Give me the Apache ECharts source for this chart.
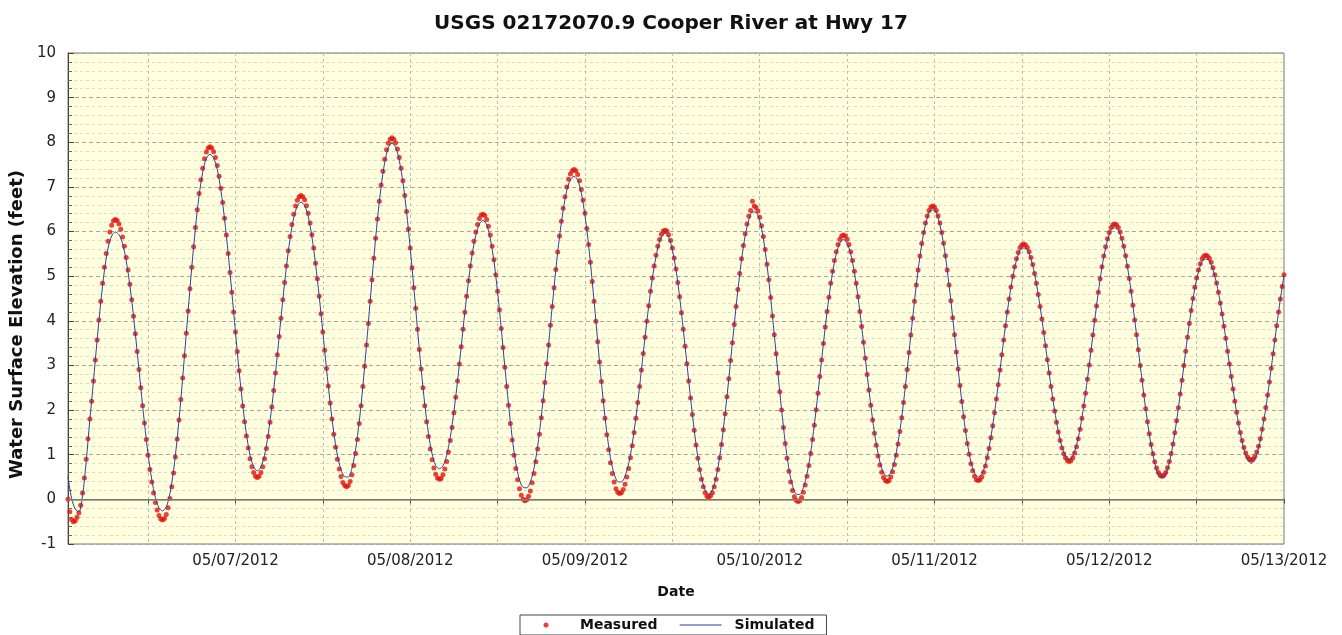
<!DOCTYPE html>
<html>
<head>
<meta charset="utf-8">
<title>USGS 02172070.9 Cooper River at Hwy 17</title>
<script src="https://cdn.jsdelivr.net/npm/echarts@6/dist/echarts.min.js"></script>
<style>
  html, body { margin: 0; padding: 0; background: #fff; }
  #chart { width: 1342px; height: 635px; }
</style>
</head>
<body>
<div id="chart"></div>
<script>
const chartTitle = "USGS 02172070.9 Cooper River at Hwy 17";

// x axis is hours since 05/06/2012 00:00
const dayTicks = [24, 48, 72, 96, 120, 144, 168];
const halfDayTicks = [12, 24, 36, 48, 60, 72, 84, 96, 108, 120, 132, 144, 156, 168];
const dateLabels = ["05/07/2012", "05/08/2012", "05/09/2012", "05/10/2012", "05/11/2012", "05/12/2012", "05/13/2012"];

// measured stage, every 15 minutes from 05/06 01:00
const measuredStart = 1;
const measuredStep = 0.25;
const measured = [
  0.00, -0.28, -0.45, -0.50,
  -0.48, -0.40, -0.30, -0.13, 0.14, 0.48, 0.90, 1.36, 1.80, 2.20, 2.65, 3.12, 3.57, 4.02, 4.44, 4.84, 5.20, 5.51, 5.78, 5.99, 6.14, 6.24, 6.27,
  6.25, 6.17, 6.05, 5.88, 5.67, 5.42, 5.14, 4.82, 4.47, 4.10, 3.71, 3.31, 2.91, 2.50, 2.10, 1.71, 1.34, 0.99, 0.67, 0.39, 0.14, -0.07, -0.24, -0.36, -0.44, -0.46,
  -0.43, -0.34, -0.19, 0.02, 0.28, 0.59, 0.95, 1.35, 1.78, 2.24, 2.72, 3.22, 3.72, 4.22, 4.72, 5.20, 5.66, 6.09, 6.49, 6.85, 7.16, 7.42, 7.63, 7.78, 7.87, 7.90,
  7.87, 7.79, 7.66, 7.48, 7.24, 6.97, 6.65, 6.30, 5.92, 5.51, 5.08, 4.64, 4.20, 3.75, 3.31, 2.88, 2.47, 2.09, 1.74, 1.42, 1.15, 0.91, 0.73, 0.60, 0.52, 0.49,
  0.52, 0.60, 0.73, 0.91, 1.14, 1.41, 1.73, 2.07, 2.44, 2.83, 3.24, 3.65, 4.06, 4.47, 4.86, 5.23, 5.57, 5.89, 6.16, 6.39, 6.57, 6.70, 6.78, 6.81,
  6.78, 6.71, 6.58, 6.41, 6.19, 5.93, 5.63, 5.29, 4.94, 4.55, 4.16, 3.75, 3.34, 2.93, 2.54, 2.16, 1.80, 1.46, 1.17, 0.90, 0.68, 0.51, 0.38, 0.31, 0.28,
  0.31, 0.40, 0.55, 0.76, 1.03, 1.34, 1.70, 2.10, 2.53, 2.98, 3.46, 3.94, 4.44, 4.92, 5.40, 5.85, 6.28, 6.68, 7.04, 7.35, 7.62, 7.83, 7.98, 8.07, 8.10,
  8.07, 7.99, 7.85, 7.66, 7.42, 7.14, 6.81, 6.45, 6.05, 5.63, 5.19, 4.74, 4.28, 3.81, 3.36, 2.92, 2.50, 2.10, 1.74, 1.41, 1.13, 0.89, 0.70, 0.56, 0.48, 0.45,
  0.47, 0.55, 0.68, 0.85, 1.06, 1.32, 1.61, 1.94, 2.29, 2.65, 3.03, 3.42, 3.81, 4.19, 4.55, 4.90, 5.23, 5.52, 5.78, 5.99, 6.16, 6.29, 6.37, 6.39,
  6.36, 6.27, 6.12, 5.92, 5.67, 5.37, 5.03, 4.66, 4.25, 3.83, 3.40, 2.96, 2.53, 2.11, 1.70, 1.33, 0.99, 0.69, 0.44, 0.24, 0.09, 0.00, -0.03,
  -0.01, 0.07, 0.19, 0.37, 0.58, 0.84, 1.13, 1.46, 1.83, 2.21, 2.62, 3.04, 3.46, 3.90, 4.32, 4.74, 5.15, 5.54, 5.90, 6.23, 6.52, 6.78, 7.00, 7.17, 7.29, 7.36, 7.39,
  7.36, 7.28, 7.14, 6.94, 6.70, 6.41, 6.07, 5.71, 5.31, 4.88, 4.44, 3.99, 3.53, 3.08, 2.64, 2.21, 1.82, 1.45, 1.11, 0.82, 0.58, 0.39, 0.24, 0.16, 0.13,
  0.15, 0.22, 0.34, 0.50, 0.69, 0.93, 1.20, 1.50, 1.82, 2.17, 2.53, 2.90, 3.27, 3.63, 3.99, 4.34, 4.66, 4.96, 5.23, 5.47, 5.67, 5.82, 5.94, 6.01, 6.03,
  6.01, 5.93, 5.80, 5.63, 5.41, 5.16, 4.86, 4.54, 4.18, 3.81, 3.43, 3.04, 2.65, 2.27, 1.90, 1.55, 1.22, 0.92, 0.67, 0.45, 0.28, 0.15, 0.07, 0.05,
  0.08, 0.15, 0.28, 0.45, 0.67, 0.93, 1.23, 1.56, 1.92, 2.30, 2.70, 3.11, 3.51, 3.92, 4.32, 4.70, 5.06, 5.39, 5.69, 5.95, 6.17, 6.34, 6.47, 6.68, 6.57,
  6.54, 6.46, 6.32, 6.13, 5.89, 5.60, 5.27, 4.92, 4.52, 4.11, 3.69, 3.26, 2.83, 2.41, 2.00, 1.61, 1.25, 0.92, 0.63, 0.39, 0.20, 0.06, -0.02, -0.05,
  -0.03, 0.04, 0.16, 0.32, 0.52, 0.76, 1.03, 1.34, 1.66, 2.01, 2.38, 2.75, 3.12, 3.49, 3.86, 4.21, 4.53, 4.84, 5.11, 5.35, 5.55, 5.71, 5.83, 5.90, 5.92,
  5.90, 5.83, 5.71, 5.55, 5.35, 5.11, 4.84, 4.54, 4.21, 3.87, 3.52, 3.16, 2.80, 2.45, 2.11, 1.78, 1.48, 1.21, 0.97, 0.77, 0.61, 0.49, 0.42, 0.40,
  0.42, 0.50, 0.62, 0.78, 0.99, 1.24, 1.52, 1.83, 2.17, 2.53, 2.91, 3.29, 3.68, 4.06, 4.44, 4.80, 5.14, 5.45, 5.73, 5.98, 6.19, 6.35, 6.47, 6.55, 6.57,
  6.55, 6.47, 6.35, 6.19, 5.98, 5.74, 5.46, 5.14, 4.80, 4.45, 4.07, 3.69, 3.30, 2.92, 2.55, 2.19, 1.85, 1.54, 1.25, 1.01, 0.80, 0.64, 0.52, 0.44, 0.42,
  0.44, 0.50, 0.61, 0.75, 0.93, 1.14, 1.38, 1.65, 1.94, 2.25, 2.57, 2.90, 3.24, 3.57, 3.89, 4.20, 4.49, 4.76, 5.00, 5.21, 5.39, 5.53, 5.64, 5.70, 5.72,
  5.70, 5.64, 5.55, 5.42, 5.26, 5.06, 4.84, 4.59, 4.32, 4.04, 3.74, 3.44, 3.13, 2.83, 2.53, 2.25, 1.98, 1.73, 1.51, 1.32, 1.15, 1.02, 0.93, 0.87, 0.85,
  0.87, 0.93, 1.04, 1.18, 1.36, 1.57, 1.82, 2.09, 2.38, 2.69, 3.01, 3.34, 3.68, 4.01, 4.33, 4.64, 4.94, 5.21, 5.45, 5.66, 5.84, 5.98, 6.09, 6.15, 6.17,
  6.15, 6.09, 5.99, 5.85, 5.67, 5.46, 5.22, 4.95, 4.66, 4.35, 4.02, 3.69, 3.35, 3.00, 2.67, 2.34, 2.03, 1.74, 1.47, 1.23, 1.02, 0.84, 0.70, 0.60, 0.54, 0.52,
  0.54, 0.60, 0.71, 0.85, 1.03, 1.24, 1.49, 1.76, 2.05, 2.36, 2.67, 3.00, 3.32, 3.63, 3.94, 4.23, 4.50, 4.75, 4.96, 5.14, 5.28, 5.39, 5.45, 5.47,
  5.45, 5.40, 5.31, 5.19, 5.03, 4.85, 4.64, 4.40, 4.15, 3.88, 3.61, 3.32, 3.03, 2.75, 2.47, 2.20, 1.95, 1.71, 1.50, 1.32, 1.16, 1.04, 0.95, 0.90, 0.88,
  0.90, 0.96, 1.06, 1.19, 1.36, 1.57, 1.80, 2.06, 2.34, 2.63, 2.94, 3.26, 3.57, 3.89, 4.20, 4.49, 4.77, 5.03
];

// simulated stage, every 30 minutes from 05/06 01:00
const simulatedStart = 1;
const simulatedStep = 0.5;
const simulated = [
  0.50, 0.02, -0.22, -0.28, 0.08, 0.85, 1.78, 2.65, 3.57, 4.41, 5.12, 5.63, 5.90, 5.99,
  5.93, 5.73, 5.34, 4.79, 4.10, 3.31, 2.50, 1.71, 1.01, 0.45, 0.04, -0.19, -0.26,
  -0.17, 0.13, 0.65, 1.37, 2.24, 3.22, 4.22, 5.20, 6.07, 6.80, 7.33, 7.64, 7.73,
  7.65, 7.39, 6.92, 6.28, 5.51, 4.64, 3.75, 2.88, 2.11, 1.47, 0.99, 0.73, 0.64,
  0.73, 0.99, 1.46, 2.09, 2.83, 3.65, 4.47, 5.21, 5.84, 6.31, 6.57, 6.66,
  6.58, 6.33, 5.88, 5.27, 4.55, 3.75, 2.93, 2.17, 1.50, 0.99, 0.66, 0.51,
  0.50, 0.70, 1.12, 1.74, 2.54, 3.46, 4.44, 5.40, 6.27, 7.00, 7.55, 7.88, 7.98,
  7.89, 7.59, 7.10, 6.44, 5.63, 4.74, 3.81, 2.92, 2.13, 1.48, 1.02, 0.76, 0.69,
  0.75, 0.98, 1.39, 1.97, 2.65, 3.42, 4.19, 4.88, 5.48, 5.91, 6.17, 6.25,
  6.15, 5.84, 5.33, 4.64, 3.83, 2.96, 2.13, 1.39, 0.81, 0.44, 0.27, 0.26,
  0.39, 0.70, 1.19, 1.85, 2.62, 3.46, 4.32, 5.15, 5.88, 6.47, 6.92, 7.16, 7.24,
  7.15, 6.86, 6.36, 5.69, 4.88, 3.99, 3.08, 2.23, 1.50, 0.93, 0.57, 0.40, 0.39,
  0.52, 0.80, 1.25, 1.84, 2.53, 3.27, 3.99, 4.65, 5.21, 5.63, 5.88, 5.96,
  5.87, 5.59, 5.14, 4.53, 3.81, 3.04, 2.27, 1.56, 0.94, 0.49, 0.21, 0.12,
  0.21, 0.49, 0.95, 1.57, 2.30, 3.11, 3.92, 4.69, 5.37, 5.90, 6.26, 6.44,
  6.43, 6.24, 5.84, 5.25, 4.51, 3.69, 2.83, 2.01, 1.28, 0.69, 0.31, 0.12, 0.11,
  0.27, 0.58, 1.06, 1.67, 2.38, 3.12, 3.86, 4.52, 5.08, 5.49, 5.74, 5.82,
  5.74, 5.49, 5.08, 4.53, 3.87, 3.16, 2.45, 1.79, 1.25, 0.84, 0.59, 0.52,
  0.60, 0.85, 1.28, 1.84, 2.53, 3.29, 4.06, 4.80, 5.44, 5.95, 6.30, 6.48, 6.48,
  6.30, 5.95, 5.45, 4.80, 4.07, 3.30, 2.55, 1.86, 1.27, 0.84, 0.59, 0.50,
  0.57, 0.79, 1.16, 1.66, 2.25, 2.90, 3.57, 4.20, 4.75, 5.18, 5.48, 5.63, 5.63,
  5.50, 5.23, 4.83, 4.32, 3.74, 3.13, 2.53, 1.99, 1.53, 1.18, 0.97, 0.90,
  0.97, 1.21, 1.59, 2.10, 2.69, 3.34, 4.01, 4.64, 5.20, 5.63, 5.93, 6.08, 6.08,
  5.94, 5.64, 5.21, 4.66, 4.02, 3.35, 2.67, 2.03, 1.46, 1.00, 0.66, 0.49, 0.49,
  0.67, 1.01, 1.48, 2.05, 2.67, 3.32, 3.94, 4.49, 4.93, 5.23, 5.38, 5.38,
  5.26, 5.00, 4.63, 4.15, 3.61, 3.03, 2.47, 1.94, 1.48, 1.12, 0.89, 0.81,
  0.90, 1.15, 1.55, 2.05, 2.63, 3.26, 3.89, 4.49, 5.02
];

const measuredPoints = measured.map((v, i) => [measuredStart + i * measuredStep, v]);
const simulatedPoints = simulated.map((v, i) => [simulatedStart + i * simulatedStep, v]);

// legend icons: a small dot and a thin line, both centred in a 42x5 box
const dotIcon = "path://M0,0 M42,5 M23.5,2.5 A2.5,2.5 0 1 1 18.5,2.5 A2.5,2.5 0 1 1 23.5,2.5 Z";
const lineIcon = "path://M0,0 M42,5 M0,2 L42,2 L42,3 L0,3 Z";

const chart = echarts.init(document.getElementById("chart"));
chart.setOption({
  animation: false,
  textStyle: { fontFamily: "DejaVu Sans" },
  title: {
    text: chartTitle,
    left: "center",
    top: 9,
    textStyle: { fontSize: 20, fontWeight: "bold", color: "#111", fontFamily: "DejaVu Sans" },
  },
  legend: {
    left: 520,
    top: 615,
    padding: [3, 12, 3, 5],
    itemGap: 22,
    itemWidth: 42,
    itemHeight: 5,
    backgroundColor: "#fff",
    borderColor: "#444",
    borderWidth: 1,
    textStyle: { fontSize: 14, fontWeight: "bold", color: "#111", padding: [0, 0, 0, 8] },
    data: [
      { name: "Measured", icon: dotIcon },
      { name: "Simulated", icon: lineIcon },
    ],
  },
  grid: {
    left: 66,
    right: 58,
    top: 53,
    bottom: 91,
    show: true,
    backgroundColor: "#ffffe0",
    borderColor: "#777",
    borderWidth: 1,
  },
  xAxis: {
    type: "value",
    min: 1,
    max: 168,
    name: "Date",
    nameLocation: "middle",
    nameGap: 41,
    nameTextStyle: { fontSize: 14, fontWeight: "bold", color: "#111" },
    axisLine: { lineStyle: { color: "#444" } },
    axisTick: { show: true, customValues: halfDayTicks, length: 4, lineStyle: { color: "#444" } },
    axisLabel: {
      customValues: dayTicks,
      formatter: (v) => dateLabels[dayTicks.indexOf(v)],
      fontSize: 15,
      color: "#222",
      margin: 10,
    },
    splitLine: { show: true, lineStyle: { color: "#bdbdb0", type: [3, 3] } },
  },
  yAxis: {
    type: "value",
    min: -1,
    max: 10,
    interval: 1,
    name: "Water Surface Elevation (feet)",
    nameLocation: "middle",
    nameRotate: 90,
    nameGap: 41,
    nameTextStyle: { fontSize: 18, fontWeight: "bold", color: "#111", padding: [0, 52, 0, 0] },
    axisLine: { show: true, lineStyle: { color: "#444" } },
    axisTick: { show: true, inside: true, length: 6, lineStyle: { color: "#444" } },
    minorTick: { show: true, splitNumber: 5, length: 4, lineStyle: { color: "#666" } },
    axisLabel: { fontSize: 15, color: "#222", margin: 12 },
    splitLine: { show: true, lineStyle: { color: "#a8a89c", type: [4, 3] } },
    minorSplitLine: { show: true, lineStyle: { color: "#dcdcc4", type: [3, 3] } },
  },
  series: [
    {
      name: "Measured",
      type: "scatter",
      data: measuredPoints,
      symbol: "circle",
      symbolSize: 5,
      itemStyle: { color: "#e3140c" },
      z: 2,
    },
    {
      name: "Simulated",
      type: "line",
      data: simulatedPoints,
      showSymbol: false,
      symbol: "none",
      smooth: 0.3,
      lineStyle: { color: "#2e3f9e", width: 1 },
      itemStyle: { color: "#2e3f9e" },
      z: 3,
      markLine: {
        silent: true,
        symbol: "none",
        label: { show: false },
        lineStyle: { color: "#8a8a80", type: "solid", width: 1.5 },
        data: [{ yAxis: 0 }],
      },
    },
  ],
});
</script>
</body>
</html>
